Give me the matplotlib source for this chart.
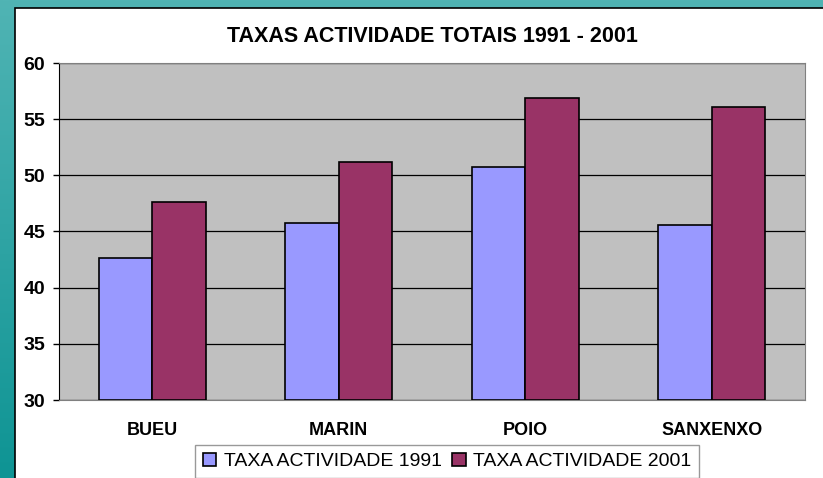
import numpy as np
import matplotlib.pyplot as plt
from matplotlib.patches import Rectangle
from matplotlib.colors import LinearSegmentedColormap

# data
categories = ["BUEU", "MARIN", "POIO", "SANXENXO"]
taxa_1991 = [42.6, 45.8, 50.7, 45.6]
taxa_2001 = [47.6, 51.2, 56.9, 56.1]
series_labels = ["TAXA ACTIVIDADE 1991", "TAXA ACTIVIDADE 2001"]
y_ticks = [30, 35, 40, 45, 50, 55, 60]
title = "TAXAS ACTIVIDADE TOTAIS 1991 - 2001"

W, H = 823, 478
fig = plt.figure(figsize=(W / 100, H / 100), dpi=100)

# teal gradient backdrop (lighter at the top, darker lower left)
bg = fig.add_axes([0, 0, 1, 1], zorder=-20)
bg.axis("off")
grad = np.linspace(0, 1, 256).reshape(-1, 1)
teal = LinearSegmentedColormap.from_list("teal", ["#50b4b4", "#0e9494"])
bg.imshow(grad, aspect="auto", cmap=teal, extent=[0, 1, 0, 1], origin="upper")

# white panel with thin black frame
bg.add_patch(Rectangle((15 / W, -0.01), 1.0, 1.01 - 8 / H, transform=bg.transAxes,
                       facecolor="white", edgecolor="black", linewidth=1.2))

ax = fig.add_axes([59 / W, 1 - 400 / H, (805 - 59) / W, (400 - 63) / H])
ax.set_facecolor("#C0C0C0")

x = np.arange(len(categories))
w = 0.287
ax.bar(x - w / 2, [v - 30 for v in taxa_1991], w, bottom=30, color="#9999FF",
       edgecolor="black", linewidth=1.2, label=series_labels[0], zorder=3)
ax.bar(x + w / 2, [v - 30 for v in taxa_2001], w, bottom=30, color="#993366",
       edgecolor="black", linewidth=1.2, label=series_labels[1], zorder=3)

ax.set_xlim(-0.5, len(categories) - 0.5)
ax.set_ylim(30, 60)
ax.set_yticks(y_ticks)
ax.set_yticklabels([str(t) for t in y_ticks], fontsize=14, fontweight="bold",
                   family="Liberation Sans")
ax.set_xticks(x)
ax.set_xticklabels(categories, fontsize=13, fontweight="bold", family="Liberation Sans")
ax.tick_params(axis="x", length=0, pad=16)
ax.tick_params(axis="y", length=4, width=1, pad=6)
ax.yaxis.grid(True, color="black", linewidth=0.9)
ax.set_axisbelow(True)

for side in ["top", "right", "bottom"]:
    ax.spines[side].set_color("#808080")
ax.spines["left"].set_color("black")

fig.text(0.5 * (59 + 805) / W, 1 - 37 / H, title, ha="center", va="center",
         fontsize=15.5, fontweight="bold", family="Liberation Sans")

leg = fig.legend(loc="upper left", bbox_to_anchor=(195 / W, 1 - 445 / H), ncol=2,
                 frameon=True, fancybox=False, edgecolor="#808080",
                 prop={"family": "Liberation Sans", "size": 14},
                 handlelength=0.7, handleheight=0.7, handletextpad=0.4,
                 columnspacing=0.5, borderpad=0.4, borderaxespad=0)
leg.get_frame().set_linewidth(1.0)

fig.savefig("out.png", dpi=100)
